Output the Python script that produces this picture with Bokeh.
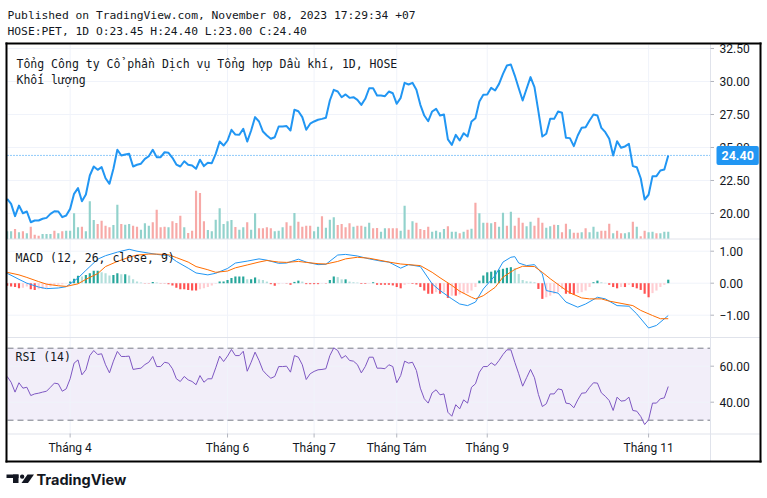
from bokeh.plotting import figure
from bokeh.models import Range1d, BoxAnnotation, Label, PolyAnnotation
from bokeh.core.properties import value
from bokeh.embed import file_html
from bokeh.resources import INLINE

# ---------------- texts ----------------
header_line1 = "Published on TradingView.com, November 08, 2023 17:29:34 +07"
header_line2 = "HOSE:PET, 1D O:23.45 H:24.40 L:23.00 C:24.40"
title_text = "Tổng Công ty Cổ phần Dịch vụ Tổng hợp Dầu khí, 1D, HOSE"
volume_title = "Khối lượng"
macd_title = "MACD (12, 26, close, 9)"
rsi_title = "RSI (14)"
brand = "TradingView"

# ---------------- x-axis (bar index of first session of month) ----------------
month_idx = [16, 56, 78, 99, 122, 163]
month_labels = ["Tháng 4", "Tháng 6", "Tháng 7", "Tháng Tám", "Tháng 9", "Tháng 11"]

# ---------------- daily closes ----------------
close = [
    21.11, 20.73, 19.80, 20.60, 20.02, 20.15, 19.34, 19.47, 19.47, 19.60,
    19.67, 19.97, 20.17, 20.15, 19.72, 19.85, 20.35, 21.49, 21.92, 20.93,
    21.44, 22.88, 23.56, 23.31, 23.51, 22.67, 22.25, 23.39, 24.83, 24.39,
    24.47, 24.52, 23.56, 23.69, 23.77, 24.14, 24.34, 24.83, 24.27, 24.27,
    24.64, 24.60, 24.22, 23.71, 23.56, 23.96, 23.69, 23.64, 23.39, 24.07,
    23.59, 23.84, 23.81, 24.52, 25.45, 25.15, 25.53, 26.34, 25.98, 25.96,
    26.42, 25.45, 26.29, 27.30, 26.97, 26.21, 25.91, 25.66, 25.78, 26.59,
    26.59, 26.62, 26.29, 27.86, 27.75, 27.30, 26.34, 26.80, 26.97, 27.10,
    27.17, 27.25, 28.56, 29.37, 29.24, 28.81, 29.02, 28.76, 28.81, 28.61,
    28.23, 28.69, 29.49, 29.49, 28.94, 28.94, 28.89, 29.24, 29.11, 28.31,
    28.76, 29.90, 29.77, 29.90, 29.37, 28.23, 27.42, 26.99, 27.73, 27.93,
    27.42, 27.50, 25.61, 25.20, 25.96, 25.53, 26.08, 25.83, 26.97, 27.22,
    28.48, 28.99, 29.02, 29.52, 29.32, 29.82, 30.58, 31.21, 31.29, 30.45,
    29.49, 28.56, 29.45, 30.33, 29.57, 27.73, 25.83, 26.04, 27.17, 27.17,
    27.73, 27.63, 25.73, 25.71, 25.10, 25.91, 26.49, 26.54, 27.05, 27.50,
    27.42, 26.49, 26.16, 25.66, 24.39, 25.48, 24.98, 25.08, 25.28, 23.59,
    23.51, 22.67, 21.06, 21.42, 22.83, 22.83, 23.26, 23.33, 24.40,
]

# ---------------- volume (thousand shares, estimated) ----------------
volume_k = [
    77, 77, 100, 67, 77, 57, 123, 43, 33, 50,
    50, 50, 83, 57, 77, 83, 83, 257, 117, 123,
    77, 377, 190, 150, 183, 133, 117, 140, 343, 150,
    143, 150, 133, 123, 93, 157, 133, 167, 293, 117,
    123, 117, 177, 160, 233, 117, 60, 83, 483, 460,
    177, 90, 77, 193, 307, 150, 177, 190, 120, 93,
    117, 167, 93, 257, 107, 107, 117, 107, 77, 83,
    117, 167, 133, 260, 173, 123, 133, 133, 77, 123,
    227, 113, 193, 217, 140, 150, 117, 157, 123, 133,
    133, 123, 163, 107, 110, 73, 107, 107, 107, 107,
    83, 333, 93, 177, 163, 100, 90, 123, 73, 83,
    67, 100, 127, 73, 73, 57, 73, 93, 103, 363,
    257, 163, 163, 157, 170, 123, 263, 133, 273, 133,
    213, 163, 127, 173, 133, 213, 163, 113, 127, 143,
    140, 67, 153, 97, 63, 63, 67, 107, 67, 123,
    73, 83, 83, 153, 57, 83, 57, 57, 67, 173,
    123, 27, 83, 67, 73, 57, 57, 73, 73,
]
# g = up session, r = down session
vol_dir = "".join([
    "ggrgrgrrrg", "ggrgrggggr", "gggrrrrggr", "ggrrgggrrr", "rgrrrgrrrr",
    "rgggggggrg", "grggrrrrgg", "grrgrrrrgg", "rgggrrrrgr", "rggrrggrrr",
    "ggrgrrrrgg", "ggrggrgrgr", "ggrgrggrgr", "rrggrrrggr", "grrgrrgrgg",
    "grrrgrrggr", "grrggrggg",
])

# ---------------- MACD (12, 26, close, 9) ----------------
hist = [
    -0.08, -0.10, -0.12, -0.16, -0.14, -0.10, -0.19, -0.21, -0.19, -0.18,
    -0.16, -0.10, -0.07, -0.05, -0.03, -0.01, 0.05, 0.14, 0.23, 0.21,
    0.26, 0.31, 0.39, 0.39, 0.34, 0.31, 0.24, 0.26, 0.31, 0.28,
    0.28, 0.24, 0.12, 0.05, 0.02, -0.01, -0.01, 0.04, 0.02, -0.01,
    -0.01, -0.03, -0.07, -0.14, -0.19, -0.19, -0.21, -0.23, -0.23, -0.19,
    -0.16, -0.12, -0.07, -0.02, 0.05, 0.05, 0.10, 0.16, 0.21, 0.21,
    0.21, 0.12, 0.12, 0.18, 0.12, 0.10, 0.05, -0.03, -0.08, -0.03,
    -0.01, -0.01, -0.05, 0.04, 0.08, 0.05, -0.03, -0.03, -0.03, -0.03,
    -0.01, -0.01, 0.10, 0.21, 0.19, 0.12, 0.12, 0.05, 0.03, 0.02,
    -0.02, -0.02, -0.01, 0.03, -0.05, -0.05, -0.05, -0.05, -0.07, -0.12,
    -0.16, -0.05, -0.02, -0.02, -0.04, -0.12, -0.23, -0.33, -0.33, -0.28,
    -0.33, -0.28, -0.46, -0.39, -0.39, -0.35, -0.33, -0.31, -0.23, -0.12,
    0.08, 0.24, 0.34, 0.36, 0.40, 0.42, 0.45, 0.48, 0.50, 0.47,
    0.29, 0.10, 0.06, 0.05, 0.03, -0.18, -0.49, -0.44, -0.39, -0.33,
    -0.28, -0.18, -0.33, -0.33, -0.36, -0.31, -0.28, -0.23, -0.12, 0.03,
    0.08, 0.03, 0.01, -0.05, -0.12, -0.16, -0.12, -0.12, -0.05, -0.12,
    -0.16, -0.21, -0.33, -0.44, -0.31, -0.23, -0.12, -0.05, 0.11,
]
macd_idx = [0, 3, 5, 8, 10, 13, 15, 18, 20, 23,
            25, 28, 31, 33, 36, 38, 41, 43, 46, 48,
            51, 53, 56, 58, 61, 64, 66, 69, 71, 74,
            76, 79, 81, 84, 86, 89, 92, 95, 97, 100,
            102, 105, 108, 110, 113, 115, 117, 119, 121, 124,
            126, 128, 129, 130, 132, 134, 136, 137, 140, 142,
            145, 147, 150, 152, 155, 158, 160, 163, 165, 168]
macd_val = [0.31, 0.12, 0.00, -0.12, -0.17, -0.15, -0.11, 0.16, 0.40, 0.75,
            0.86, 0.97, 1.06, 1.00, 0.94, 0.90, 0.86, 0.68, 0.47, 0.32,
            0.26, 0.31, 0.46, 0.63, 0.69, 0.76, 0.72, 0.62, 0.63, 0.75,
            0.66, 0.58, 0.59, 0.88, 0.90, 0.85, 0.76, 0.69, 0.66, 0.47,
            0.58, 0.52, -0.02, -0.23, -0.49, -0.65, -0.70, -0.59, -0.18, 0.24,
            0.66, 0.81, 0.83, 0.63, 0.55, 0.58, 0.29, -0.23, -0.31, -0.59,
            -0.75, -0.65, -0.44, -0.49, -0.70, -0.72, -0.96, -1.40, -1.32, -1.01]
signal_idx = [0, 3, 5, 8, 10, 13, 15, 18, 20, 23,
              25, 28, 31, 33, 36, 38, 41, 43, 46, 48,
              51, 53, 56, 58, 61, 64, 66, 69, 71, 74,
              76, 79, 81, 84, 86, 89, 92, 95, 97, 100,
              102, 105, 108, 110, 113, 115, 118, 119, 121, 124,
              126, 129, 131, 134, 136, 138, 141, 143, 146, 148,
              151, 153, 156, 159, 161, 164, 166, 168]
signal_val = [0.34, 0.26, 0.18, 0.05, -0.03, -0.08, -0.10, -0.02, 0.12, 0.30,
              0.52, 0.68, 0.81, 0.88, 0.91, 0.91, 0.89, 0.80, 0.66, 0.52,
              0.42, 0.34, 0.38, 0.48, 0.57, 0.66, 0.71, 0.66, 0.65, 0.68,
              0.65, 0.61, 0.60, 0.68, 0.76, 0.81, 0.78, 0.71, 0.66, 0.60,
              0.58, 0.55, 0.34, 0.17, -0.07, -0.25, -0.44, -0.49, -0.39, -0.13,
              0.19, 0.43, 0.53, 0.52, 0.34, 0.14, -0.13, -0.30, -0.46, -0.49,
              -0.49, -0.56, -0.63, -0.70, -0.85, -1.01, -1.11, -1.11]

# ---------------- RSI (14) ----------------
rsi = [
    54.3, 51.1, 45.6, 50.8, 47.8, 48.3, 43.7, 44.6, 45.0, 45.6,
    46.1, 48.3, 50.6, 50.2, 46.1, 47.4, 53.0, 61.7, 63.5, 55.2,
    58.0, 65.9, 68.7, 66.5, 66.9, 60.8, 56.3, 62.8, 68.2, 65.4,
    65.4, 65.6, 58.2, 58.6, 58.9, 60.9, 62.2, 65.4, 59.8, 59.8,
    62.2, 61.7, 58.6, 53.0, 51.5, 54.3, 52.4, 51.5, 49.7, 54.8,
    51.1, 53.0, 53.0, 59.1, 65.6, 62.6, 65.6, 69.3, 65.9, 65.9,
    68.3, 57.2, 62.2, 67.8, 63.2, 57.6, 55.2, 53.3, 54.3, 59.8,
    59.8, 60.0, 56.7, 65.9, 65.0, 60.8, 52.6, 55.8, 57.1, 58.0,
    58.2, 58.6, 65.9, 70.2, 68.7, 64.4, 65.9, 63.2, 62.8, 60.9,
    56.3, 59.8, 65.0, 65.0, 58.9, 58.9, 58.6, 60.8, 59.8, 50.8,
    54.8, 62.8, 61.7, 62.2, 57.6, 47.8, 41.9, 39.5, 45.2, 46.9,
    44.1, 44.6, 34.4, 32.2, 38.6, 36.3, 41.3, 39.5, 48.3, 50.2,
    56.7, 59.8, 59.8, 61.9, 60.4, 63.2, 66.5, 69.1, 69.1, 62.2,
    55.8, 48.9, 53.6, 58.2, 53.6, 44.3, 37.6, 39.1, 44.6, 44.6,
    47.4, 46.9, 39.5, 39.1, 36.9, 41.3, 45.0, 45.2, 48.3, 50.8,
    50.6, 45.2, 43.3, 40.9, 35.4, 42.8, 40.6, 40.9, 42.8, 35.4,
    35.0, 32.1, 27.6, 30.2, 39.5, 39.5, 41.9, 42.4, 48.7,
]
rsi_bands = [30, 70]

# ---------------- axis ticks ----------------
price_ticks = [20.0, 22.5, 25.0, 27.5, 30.0, 32.5]
macd_ticks = [1.0, 0.0, -1.0]
rsi_ticks = [60.0, 40.0]

N = len(close)
assert N == len(volume_k) == len(vol_dir) == len(rsi) == len(hist) == 169, \
    (N, len(volume_k), len(vol_dir), len(rsi), len(hist))
idx = list(range(N))

# ---------------- layout (canvas pixels) ----------------
W, H = 767, 498
CL, CR, CT, CB = 7, 710, 44, 433        # chart area
BOX_L, BOX_T, BOX_R, BOX_B = 6, 43, 760, 461
SEP1, SEP2 = 238.5, 337                 # pane separators
# data ranges spanning the whole canvas, so that each pane lands in its band
XA, XB = -1.695, 193.22
PA, PB = -1.591, 36.136
VA, VB = -2595.0, 2385.0
MA, MB = -6.728, 8.834
RA, RB = -13.5, 263.17

TEXT = "#131722"
GRID = "#f0f3fa"
SEP = "#e0e3eb"
BLUE = "#2196f3"

p = figure(width=W, height=H, output_backend="svg", toolbar_location=None, title=None,
           x_range=Range1d(XA, XB), y_range=Range1d(PA, PB),
           x_axis_location=None, y_axis_location=None, min_border=0,
           background_fill_color="white", border_fill_color="white",
           outline_line_color=None)
p.grid.visible = False
p.extra_x_ranges = {"cx": Range1d(0, W)}
p.extra_y_ranges = {"cy": Range1d(H, 0), "vol": Range1d(VA, VB),
                    "macd": Range1d(MA, MB), "rsi": Range1d(RA, RB)}

panes = [("default", price_ticks, [f"{v:.2f}" for v in price_ticks]),
         ("macd", macd_ticks, [f"{v:.2f}".replace("-", "\u2212") for v in macd_ticks]),
         ("rsi", rsi_ticks, [f"{v:.2f}" for v in rsi_ticks])]

# ---- grid ----
p.segment(x0=month_idx, x1=month_idx, y0=[CT] * len(month_idx), y1=[CB] * len(month_idx),
          y_range_name="cy", line_color=GRID, line_width=1)
for rname, ticks, labels in panes:
    n = len(ticks)
    p.segment(x0=[CL] * n, x1=[CR] * n, y0=ticks, y1=ticks, x_range_name="cx",
              y_range_name=rname, line_color=GRID, line_width=1)

# ---- RSI band and levels ----
p.add_layout(BoxAnnotation(left=CL, right=CR, left_units="canvas", right_units="canvas",
                           bottom=rsi_bands[0], top=rsi_bands[1], y_range_name="rsi",
                           fill_color="#7e57c2", fill_alpha=0.1, line_alpha=0, level="underlay"))
p.segment(x0=[CL] * 2, x1=[CR] * 2, y0=rsi_bands, y1=rsi_bands, x_range_name="cx",
          y_range_name="rsi", line_color="#787b86", line_dash="6 4", line_width=1)

# ---- volume ----
vol_colors = ["#92d2cc" if d == "g" else "#f7a9a7" for d in vol_dir]
p.vbar(x=idx, top=volume_k, bottom=0, width=0.55, y_range_name="vol",
       fill_color=vol_colors, line_color=None)

# ---- price ----
p.segment(x0=[CL], x1=[CR], y0=[close[-1]], y1=[close[-1]], x_range_name="cx",
          line_color=BLUE, line_dash="1 2", line_width=1)
p.line(idx, close, line_color=BLUE, line_width=2, line_join="round")

# ---- MACD ----
hist_colors = []
for i, h in enumerate(hist):
    prev = hist[i - 1] if i > 0 else h
    if h >= 0:
        hist_colors.append("#26a69a" if h >= prev else "#b2dfdb")
    else:
        hist_colors.append("#ff5252" if h <= prev else "#ffcdd2")
p.vbar(x=idx, top=hist, bottom=0, width=0.55, y_range_name="macd",
       fill_color=hist_colors, line_color=None)
p.line(macd_idx, macd_val, y_range_name="macd", line_color=BLUE, line_width=1)
p.line(signal_idx, signal_val, y_range_name="macd", line_color="#ff6d00", line_width=1)

# ---- RSI ----
p.line(idx, rsi, y_range_name="rsi", line_color="#7e57c2", line_width=1)

# ---- separators / axis lines ----
p.segment(x0=[CL, CL, CL, CR], x1=[BOX_R, BOX_R, BOX_R, CR],
          y0=[SEP1, SEP2, CB + 0.5, BOX_T], y1=[SEP1, SEP2, CB + 0.5, BOX_B],
          x_range_name="cx", y_range_name="cy", line_color=SEP, line_width=1)

# ---- right axis: ticks + labels ----
for rname, ticks, labels in panes:
    n = len(ticks)
    p.segment(x0=[CR] * n, x1=[CR + 3.5] * n, y0=ticks, y1=ticks, x_range_name="cx",
              y_range_name=rname, line_color="#b2b5be", line_width=1)
    p.text(x=[CR + 9] * n, y=ticks, text=labels, x_range_name="cx", y_range_name=rname,
           text_font=value("Roboto"), text_font_size="12px", text_color=TEXT,
           text_baseline="middle", text_align="left")

# ---- bottom axis: ticks + labels ----
m = len(month_idx)
p.segment(x0=month_idx, x1=month_idx, y0=[CB] * m, y1=[CB + 4] * m, y_range_name="cy",
          line_color="#b2b5be", line_width=1)
p.text(x=month_idx, y=[447] * m, text=month_labels, y_range_name="cy",
       text_font=value("Roboto"), text_font_size="12px", text_color=TEXT,
       text_baseline="middle", text_align="center")

# ---- last price tag ----
p.add_layout(Label(x=CR + 6, x_units="canvas", y=close[-1], text=f"{close[-1]:.2f}",
                   text_color="white", text_font="Roboto", text_font_size="12.5px",
                   text_font_style="bold", text_baseline="middle", text_align="left",
                   background_fill_color=BLUE, padding=5, border_radius=2))


def canvas_label(x, y, text, font="DejaVu Sans Mono", size="11.5px", style="normal"):
    p.add_layout(Label(x=x, y=y, x_units="canvas", y_units="canvas", text=text,
                       text_font=font, text_font_size=size, text_font_style=style,
                       text_color=TEXT, text_baseline="middle", text_align="left"))


canvas_label(7, 15, header_line1, size="11.3px")
canvas_label(7, 31, header_line2, size="11.3px")
canvas_label(16, 63, title_text)
canvas_label(16, 79, volume_title)
canvas_label(15, 257, macd_title)
canvas_label(15, 356, rsi_title)
canvas_label(36, 479, brand, font="Inter", size="14.5px", style="bold")

# ---- outer frame (black, 2 px) ----
p.segment(x0=[BOX_L, BOX_L, BOX_L, BOX_R], x1=[BOX_R, BOX_R, BOX_L, BOX_R],
          y0=[BOX_T, BOX_B, BOX_T, BOX_T], y1=[BOX_T, BOX_B, BOX_B, BOX_B],
          x_range_name="cx", y_range_name="cy", line_color="#000000", line_width=2,
          line_cap="square")

# ---- logo mark ----
for l, r, t, b, rad in [(6, 18, 474, 477.5, 0), (12.5, 18, 474, 482.5, 0),
                        (19.5, 23.8, 474, 478.3, 2)]:
    p.add_layout(BoxAnnotation(left=l, right=r, top=t, bottom=b,
                               left_units="canvas", right_units="canvas",
                               top_units="canvas", bottom_units="canvas",
                               fill_color=TEXT, fill_alpha=1, line_alpha=0, border_radius=rad))
p.add_layout(PolyAnnotation(xs=[27, 33.5, 27.5, 21], ys=[474, 474, 482.5, 482.5],
                            xs_units="canvas", ys_units="canvas",
                            fill_color=TEXT, fill_alpha=1, line_alpha=0))

open("out.html", "w").write(file_html(p, INLINE))
